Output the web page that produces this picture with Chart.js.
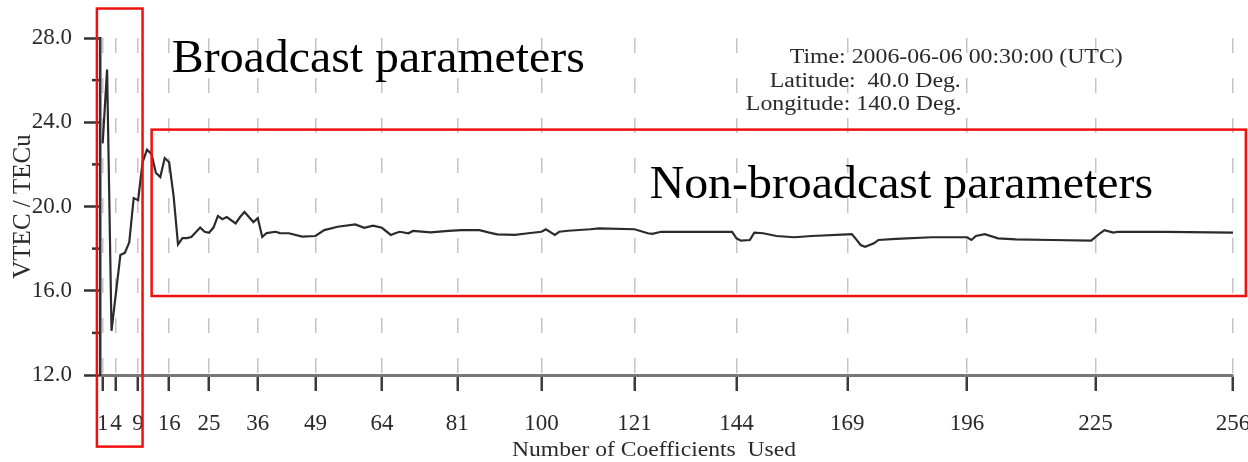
<!DOCTYPE html>
<html>
<head>
<meta charset="utf-8">
<script src="https://cdn.jsdelivr.net/npm/chart.js@4.4.1/dist/chart.umd.min.js"></script>
<style>
  body { margin: 0; background: #fff; }
  #wrap { width: 1248px; height: 462px; }
</style>
</head>
<body>
<div id="wrap"><canvas id="graphic" width="1248" height="462"></canvas></div>
<script>
// VTEC estimate vs. number of model coefficients used
const coeffCounts = [1, 2, 3, 5, 6, 7, 8, 9, 10, 11, 12, 13, 14, 15, 16, 17, 18, 19, 20, 21,
  23, 24, 25, 26, 27, 28, 29, 31, 32, 33, 34, 35, 36, 37, 38, 40, 41, 43, 46, 49,
  51, 54, 58, 60, 62, 64, 66, 67, 68, 70, 71, 75, 79, 82, 86, 88, 90, 94, 97, 100,
  101, 103, 104, 106, 111, 113, 121, 124, 125, 127, 135, 143, 144, 145, 147, 148, 150, 153, 157, 161,
  169, 170, 171, 172, 173, 175, 176, 180, 188, 196, 197, 198, 200, 203, 207, 215, 224, 226, 227, 229,
  230, 241, 256];
const vtecValues = [23.0, 26.5, 14.1, 17.7, 17.8, 18.3, 20.4, 20.3, 22.1, 22.7, 22.5, 21.6, 21.4, 22.3, 22.1, 20.5, 18.2, 18.5, 18.5, 18.55,
  19.0, 18.8, 18.75, 19.0, 19.55, 19.4, 19.5, 19.2, 19.5, 19.74, 19.5, 19.26, 19.45, 18.55, 18.74, 18.8, 18.74, 18.73, 18.57, 18.6,
  18.88, 19.04, 19.15, 18.99, 19.09, 18.99, 18.65, 18.73, 18.8, 18.73, 18.84, 18.77, 18.84, 18.88, 18.88, 18.77, 18.68, 18.65, 18.73, 18.8,
  18.92, 18.65, 18.8, 18.85, 18.92, 18.96, 18.92, 18.73, 18.7, 18.8, 18.8, 18.8, 18.49, 18.38, 18.41, 18.76, 18.73, 18.6, 18.54, 18.6,
  18.68, 18.69, 18.44, 18.17, 18.09, 18.25, 18.41, 18.46, 18.54, 18.54, 18.41, 18.6, 18.69, 18.49, 18.44, 18.41, 18.38, 18.73, 18.88, 18.76,
  18.8, 18.8, 18.76];

const squareTicks = [1, 4, 9, 16, 25, 36, 49, 64, 81, 100, 121, 144, 169, 196, 225, 256];
const yMajorTicks = [12, 16, 20, 24, 28];
const yMinorTicks = [14, 18, 22, 26];

const infoLines = ['Time: 2006-06-06 00:30:00 (UTC)', 'Latitude:  40.0 Deg.', 'Longitude: 140.0 Deg.'];

// highlighted parameter ranges (coefficient count / VTEC units)
const regionBoxes = [
  { label: 'Broadcast parameters', from: -0.3, to: 10.0, top: 29.4, bottom: 8.6, textAt: [16.6, 26.39] },
  { label: 'Non-broadcast parameters', from: 12.05, to: 258.9, top: 23.65, bottom: 15.75, textAt: [124.4, 20.4] }
];

const serif = "'Liberation Serif', 'Times New Roman', serif";
Chart.defaults.font.family = serif;

function wideText(ctx, text, px, py, size, sx, color) {
  ctx.save();
  ctx.font = size + 'px ' + serif;
  ctx.fillStyle = color;
  ctx.textAlign = 'left';
  ctx.textBaseline = 'alphabetic';
  ctx.translate(px, py);
  ctx.scale(sx, 1);
  ctx.fillText(text, 0, 0);
  ctx.restore();
}

const overlay = {
  id: 'overlay',
  afterDraw(chart) {
    const { ctx, scales: { x, y } } = chart;
    ctx.save();

    // short minor ticks on the VTEC axis
    ctx.strokeStyle = '#333';
    ctx.lineWidth = 2.5;
    yMinorTicks.forEach(v => {
      const py = y.getPixelForValue(v);
      ctx.beginPath();
      ctx.moveTo(x.left - 8, py);
      ctx.lineTo(x.left, py);
      ctx.stroke();
    });

    // info block
    const infoX = [156.0, 151.5, 146.1];
    const infoY = [26.83, 25.69, 24.56];
    infoLines.forEach((t, i) => {
      wideText(ctx, t, x.getPixelForValue(infoX[i]), y.getPixelForValue(infoY[i]), 20, 1.19, '#2a2a2a');
    });

    // boxes around the two parameter groups
    ctx.strokeStyle = '#f01010';
    ctx.lineWidth = 2.5;
    regionBoxes.forEach(b => {
      const x1 = x.getPixelForValue(b.from), x2 = x.getPixelForValue(b.to);
      const y1 = y.getPixelForValue(b.top), y2 = y.getPixelForValue(b.bottom);
      ctx.strokeRect(x1, y1, x2 - x1, y2 - y1);
      wideText(ctx, b.label, x.getPixelForValue(b.textAt[0]), y.getPixelForValue(b.textAt[1]), 46, 1.04, '#000');
    });

    // x axis title
    wideText(ctx, 'Number of Coefficients  Used', 512, 456, 20, 1.18, '#2a2a2a');
    ctx.restore();
  }
};

const graphic = document.getElementById('graphic').getContext('2d');

new Chart(graphic, {
  type: 'line',
  data: {
    datasets: [{
      data: coeffCounts.map((n, i) => ({ x: n, y: vtecValues[i] })),
      borderColor: '#2b2b2b',
      borderWidth: 2.2,
      pointRadius: 0,
      tension: 0,
      fill: false
    }]
  },
  options: {
    responsive: false,
    animation: false,
    layout: { padding: { top: 38, right: 15, left: 0, bottom: 0 } },
    plugins: { legend: { display: false }, tooltip: { enabled: false } },
    scales: {
      x: {
        type: 'linear',
        min: 0.4,
        max: 256,
        afterBuildTicks: axis => { axis.ticks = squareTicks.map(v => ({ value: v })); },
        afterFit: axis => { axis.height = 87; axis.paddingRight = 0; axis.paddingLeft = 0; },
        ticks: { autoSkip: false, maxRotation: 0, padding: 19, color: '#2a2a2a', font: { size: 23 }, callback: v => String(v) },
        grid: {
          color: '#c4c4c4', lineWidth: 1.5,
          tickLength: 16, tickColor: '#3a3a3a', tickWidth: 2.5, tickBorderDash: [16, 0]
        },
        border: { color: '#777', width: 3, dash: [15, 25] }
      },
      y: {
        min: 12,
        max: 28,
        afterBuildTicks: axis => { axis.ticks = yMajorTicks.map(v => ({ value: v })); },
        afterFit: axis => { axis.width = 100; },
        ticks: { padding: 12, color: '#2a2a2a', font: { size: 23 }, callback: v => v.toFixed(1) },
        grid: { drawOnChartArea: false, tickLength: 16, tickColor: '#333', tickWidth: 2.5 },
        border: { color: '#333', width: 2.5 },
        title: { display: true, text: 'VTEC / TECu', color: '#2a2a2a', font: { size: 25 }, padding: { top: 8, bottom: 0 } }
      }
    }
  },
  plugins: [overlay]
});
</script>
</body>
</html>
